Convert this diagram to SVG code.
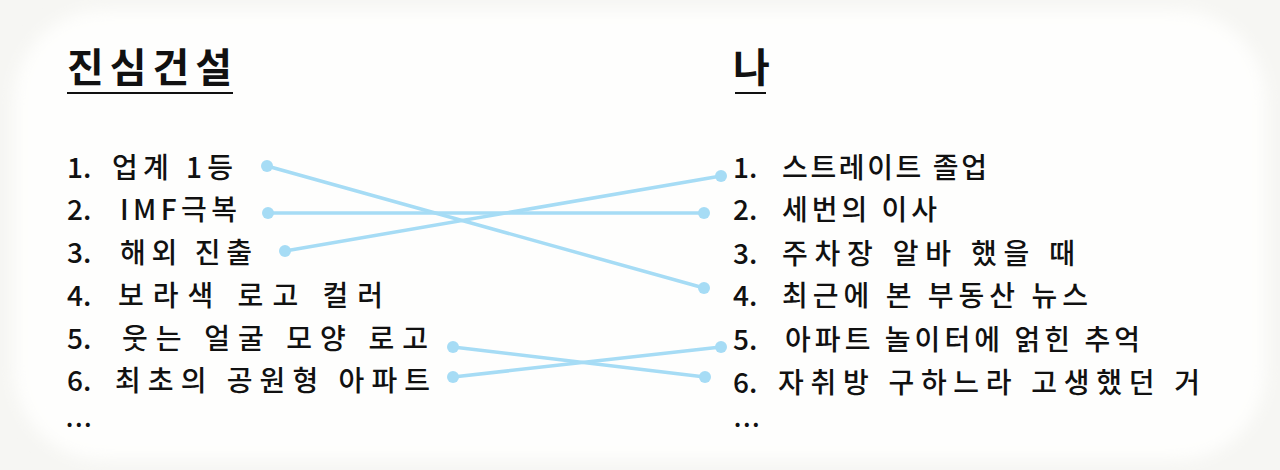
<svg xmlns="http://www.w3.org/2000/svg" width="1280" height="470" viewBox="0 0 1280 470">
  <defs>
    <filter id="soft" x="-10%" y="-10%" width="120%" height="120%">
      <feGaussianBlur stdDeviation="8"/>
    </filter>
  </defs>
  <style>
    text { font-family: "Noto Sans CJK KR", "Noto Sans", sans-serif; fill: #111; }
    .title { font-size: 40px; font-weight: 700; }
    .item { font-size: 28px; font-weight: 500; }
    .num { font-size: 28px; font-weight: 500; }
    .more { font-size: 22px; font-weight: 700; letter-spacing: 2px; }
    .rule { stroke: #111; stroke-width: 2; }
    .link { stroke: #a6dcf5; stroke-width: 3.5; stroke-linecap: round; fill: none; }
    .dot { fill: #a6dcf5; }
  </style>
  <rect x="0" y="0" width="1280" height="470" fill="#f6f6f3"/>
  <rect x="14" y="10" width="1252" height="450" rx="90" fill="#fefefd" filter="url(#soft)"/>

  <g id="left-title">
    <text class="title" x="67" y="82" textLength="165" lengthAdjust="spacing">진심건설</text>
    <line class="rule" x1="67" y1="93" x2="233" y2="93"/>
  </g>
  <g id="right-title">
    <text class="title" x="733" y="82">나</text>
    <line class="rule" x1="735" y1="93" x2="766" y2="93"/>
  </g>

  <g id="left-1"><text class="num" x="67" y="178">1.</text><text class="item" x="112" y="178" textLength="121" lengthAdjust="spacing">업계 1등</text></g>
  <g id="left-2"><text class="num" x="67" y="220">2.</text><text class="item" x="120" y="220" textLength="117" lengthAdjust="spacing">IMF극복</text></g>
  <g id="left-3"><text class="num" x="67" y="263">3.</text><text class="item" x="120" y="263" textLength="132" lengthAdjust="spacing">해외 진출</text></g>
  <g id="left-4"><text class="num" x="67" y="306">4.</text><text class="item" x="118" y="306" textLength="265" lengthAdjust="spacing">보라색 로고 컬러</text></g>
  <g id="left-5"><text class="num" x="67" y="349">5.</text><text class="item" x="122" y="349" textLength="306" lengthAdjust="spacing">웃는 얼굴 모양 로고</text></g>
  <g id="left-6"><text class="num" x="67" y="391">6.</text><text class="item" x="115" y="391" textLength="315" lengthAdjust="spacing">최초의 공원형 아파트</text></g>
  <g id="left-more"><text class="more" x="66" y="427">...</text></g>

  <g id="right-1"><text class="num" x="733" y="178">1.</text><text class="item" x="782" y="178" textLength="205" lengthAdjust="spacing">스트레이트 졸업</text></g>
  <g id="right-2"><text class="num" x="733" y="220">2.</text><text class="item" x="782" y="220" textLength="155" lengthAdjust="spacing">세번의 이사</text></g>
  <g id="right-3"><text class="num" x="733" y="264">3.</text><text class="item" x="782" y="264" textLength="293" lengthAdjust="spacing">주차장 알바 했을 때</text></g>
  <g id="right-4"><text class="num" x="733" y="306">4.</text><text class="item" x="782" y="306" textLength="306" lengthAdjust="spacing">최근에 본 부동산 뉴스</text></g>
  <g id="right-5"><text class="num" x="733" y="350">5.</text><text class="item" x="785" y="350" textLength="355" lengthAdjust="spacing">아파트 놀이터에 얽힌 추억</text></g>
  <g id="right-6"><text class="num" x="733" y="393">6.</text><text class="item" x="778" y="393" textLength="422" lengthAdjust="spacing">자취방 구하느라 고생했던 거</text></g>
  <g id="right-more"><text class="more" x="734" y="427">...</text></g>

  <g id="connectors">
    <line class="link" x1="267" y1="166" x2="704" y2="288"/>
    <line class="link" x1="268" y1="213" x2="704" y2="213"/>
    <line class="link" x1="285" y1="251" x2="721" y2="176"/>
    <line class="link" x1="453" y1="347" x2="705" y2="377"/>
    <line class="link" x1="453" y1="377" x2="721" y2="347"/>
    <circle class="dot" cx="267" cy="166" r="6"/>
    <circle class="dot" cx="704" cy="288" r="6"/>
    <circle class="dot" cx="268" cy="213" r="6"/>
    <circle class="dot" cx="704" cy="213" r="6"/>
    <circle class="dot" cx="285" cy="251" r="6"/>
    <circle class="dot" cx="721" cy="176" r="6"/>
    <circle class="dot" cx="453" cy="347" r="6"/>
    <circle class="dot" cx="705" cy="377" r="6"/>
    <circle class="dot" cx="453" cy="377" r="6"/>
    <circle class="dot" cx="721" cy="347" r="6"/>
  </g>
</svg>
